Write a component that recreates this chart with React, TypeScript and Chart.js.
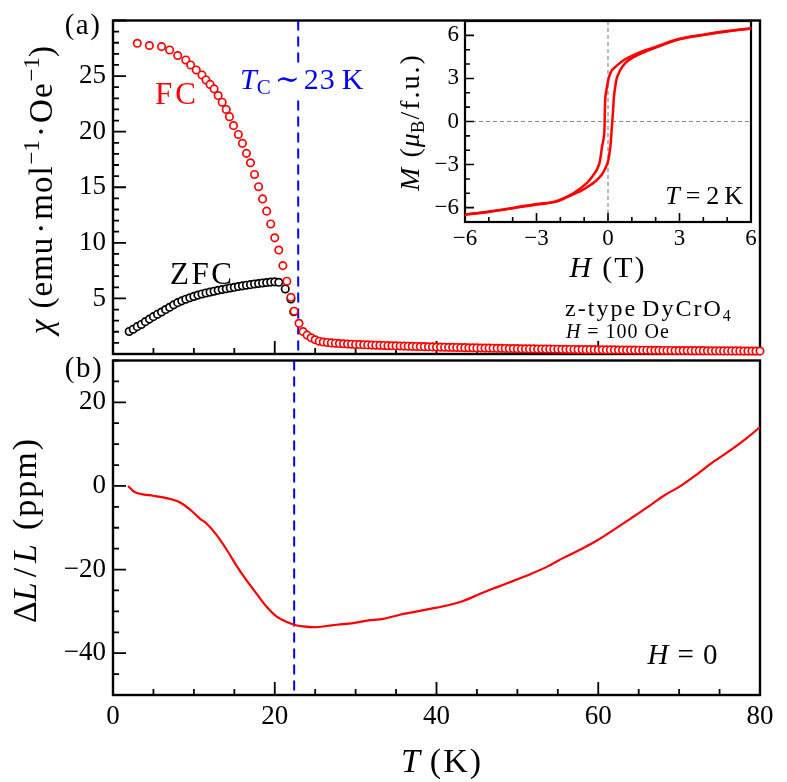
import React, { useEffect, useRef } from 'react';
import { Chart, registerables } from 'chart.js';

Chart.register(...registerables);

const SERIF = '"Liberation Serif", "DejaVu Serif", "Times New Roman", serif';
const RED = '#ff0000';
const BLUE = '#0000ff';

// ---------------- data: (a) chi(T) ----------------
const T_FC = [3, 4.5, 6, 7, 8, 9, 9.6, 10.3, 11, 11.5, 12, 12.5, 13, 13.5, 14, 14.4, 14.9, 15.5, 16, 16.5,
  17, 17.5, 18, 18.5, 19, 19.5, 20, 20.5, 21, 21.5, 22, 22.4, 23, 23.5, 24, 24.5, 25, 25.5];
const CHI_FC = [27.95, 27.75, 27.65, 27.35, 26.85, 26.45, 26.0, 25.55, 25.1, 24.65, 24.25, 23.85, 23.25, 22.65, 22.0, 21.35, 20.55, 19.75, 18.95, 18.05,
  17.2, 16.15, 15.05, 13.95, 12.85, 11.7, 10.45, 9.35, 7.95, 6.55, 5.1, 3.85, 2.76, 2.02, 1.7, 1.46, 1.28, 1.15];
const T_FC_TAIL = [
  26, 26.5, 27, 27.5, 28, 28.5, 29, 29.5, 30, 30.5,
  31, 31.5, 32, 32.5, 33, 33.5, 34, 34.5, 35, 35.5,
  36, 36.5, 37, 37.5, 38, 38.5, 39, 39.5, 40, 40.5,
  41, 41.5, 42, 42.5, 43, 43.5, 44, 44.5, 45, 45.5,
  46, 46.5, 47, 47.5, 48, 48.5, 49, 49.5, 50, 50.5,
  51, 51.5, 52, 52.5, 53, 53.5, 54, 54.5, 55, 55.5,
  56, 56.5, 57, 57.5, 58, 58.5, 59, 59.5, 60, 60.5,
  61, 61.5, 62, 62.5, 63, 63.5, 64, 64.5, 65, 65.5,
  66, 66.5, 67, 67.5, 68, 68.5, 69, 69.5, 70, 70.5,
  71, 71.5, 72, 72.5, 73, 73.5, 74, 74.5, 75, 75.5,
  76, 76.5, 77, 77.5, 78, 78.5, 79, 79.5, 80];
const CHI_FC_TAIL = [
  1.08, 1.04, 1.0, 0.97, 0.94, 0.92, 0.9, 0.88, 0.86, 0.85,
  0.83, 0.82, 0.8, 0.79, 0.78, 0.77, 0.75, 0.74, 0.73, 0.72,
  0.71, 0.7, 0.69, 0.68, 0.67, 0.66, 0.65, 0.64, 0.63, 0.62,
  0.61, 0.6, 0.6, 0.59, 0.58, 0.57, 0.56, 0.56, 0.55, 0.54,
  0.53, 0.53, 0.52, 0.51, 0.51, 0.5, 0.49, 0.49, 0.48, 0.47,
  0.47, 0.46, 0.46, 0.45, 0.45, 0.44, 0.44, 0.43, 0.43, 0.42,
  0.42, 0.41, 0.41, 0.4, 0.4, 0.39, 0.39, 0.39, 0.38, 0.38,
  0.37, 0.37, 0.37, 0.36, 0.36, 0.35, 0.35, 0.35, 0.34, 0.34,
  0.34, 0.33, 0.33, 0.33, 0.32, 0.32, 0.32, 0.31, 0.31, 0.31,
  0.31, 0.3, 0.3, 0.3, 0.3, 0.29, 0.29, 0.29, 0.29, 0.28,
  0.28, 0.28, 0.28, 0.28, 0.27, 0.27, 0.27, 0.27, 0.27];
const T_ZFC = [2, 2.5, 3, 3.5, 4, 4.5, 5, 5.5, 6, 6.5, 7, 7.5, 8, 8.5, 9, 9.5, 10, 10.5, 11, 11.5,
  12, 12.5, 13, 13.5, 14, 14.5, 15, 15.5, 16, 16.5, 17, 17.5, 18, 18.5, 19, 19.5, 20, 20.5, 21.3, 22, 22.35];
const CHI_ZFC = [2.03, 2.23, 2.46, 2.66, 2.91, 3.14, 3.36, 3.58, 3.78, 4.0, 4.2, 4.42, 4.62, 4.78, 4.93, 5.06, 5.18, 5.3, 5.4, 5.49,
  5.57, 5.65, 5.73, 5.8, 5.87, 5.94, 6.0, 6.07, 6.13, 6.19, 6.24, 6.3, 6.34, 6.39, 6.43, 6.47, 6.49, 6.45, 5.85, 4.95, 3.8];

// ---------------- data: (b) dL/L(T) ----------------
const T_DL = [1.86, 2.15, 2.48, 2.9, 3.72, 4.95, 6.2, 7.23, 8.26, 9.5, 10.74, 11.56, 12.8, 14.04, 15.28, 16.52, 17.76, 19.0, 20.2, 21.5,
  22.4, 23.5, 25.0, 26.4, 27.7, 29.7, 31.4, 33.4, 35.5, 37.6, 39.2, 41.3, 43.3, 45.4, 47.5, 49.5, 51.6, 53.7, 55.7, 57.8,
  59.9, 61.9, 64.0, 66.1, 68.1, 70.2, 72.3, 74.3, 76.4, 78.4, 80];
const DL = [0, -0.54, -1.17, -1.63, -2.0, -2.34, -2.73, -3.2, -3.9, -5.6, -7.8, -8.97, -11.7, -15.2, -19.1, -22.6, -25.8, -28.9, -31.2, -32.55,
  -33.2, -33.6, -33.8, -33.5, -33.2, -32.8, -32.2, -31.8, -30.8, -30.0, -29.4, -28.6, -27.5, -25.8, -24.2, -22.7, -21.1, -19.3, -17.2, -15.2,
  -13.0, -10.5, -7.8, -5.06, -2.34, 0, 2.9, 5.85, 8.6, 11.5, 14.05];

// ---------------- data: inset M(H) at 2 K ----------------
const H_UP = [-6, -5, -4, -3, -2.2, -1.44, -1.1, -0.81, -0.55, -0.39, -0.25, -0.14, -0.06, 0, 0.05,
  0.1, 0.14, 0.18, 0.22, 0.25, 0.32, 0.39, 0.6, 0.88, 1.37, 2, 3, 4, 5, 6];
const M_UP = [-6.5, -6.3, -6.05, -5.78, -5.6, -5.05, -4.8, -4.5, -4.2, -3.94, -3.68, -3.36, -3.05, -2.78, -2.35,
  -1.74, -0.9, 0, 0.95, 1.74, 2.6, 3.13, 3.82, 4.28, 4.72, 5.15, 5.72, 6.02, 6.27, 6.48];
const H_DOWN = [6, 5, 4, 3, 2, 1.23, 0.67, 0.32, 0.18, 0.1, 0.02, -0.04, -0.08, -0.11, -0.13,
  -0.14, -0.16, -0.2, -0.25, -0.3, -0.36, -0.45, -0.56, -0.88, -1.44, -2.2, -3, -4, -5, -6];
const M_DOWN = [6.5, 6.3, 6.05, 5.76, 5.2, 4.75, 4.28, 3.82, 3.6, 3.36, 2.95, 2.43, 2.05, 1.74, 0.9,
  0, -0.9, -1.35, -1.74, -2.35, -2.9, -3.3, -3.6, -4.28, -4.98, -5.56, -5.74, -6.02, -6.27, -6.48];

// ---------------- markers / ticks ----------------
const TC_TOP = 22.9;
const TC_BOTTOM = 22.4;
const TC_GAP = [22.8, 25.9];
const TICKS_T = [0, 20, 40, 60, 80];
const TICKS_CHI = [5, 10, 15, 20, 25];
const TICKS_DL = [-40, -20, 0, 20];
const TICKS_H = [-6, -3, 0, 3, 6];
const TICKS_M = [-6, -3, 0, 3, 6];

const pts = (xs: number[], ys: number[]) =>
  xs.slice(0, Math.min(xs.length, ys.length)).map((x, i) => ({ x, y: ys[i] }));

const fontOf = (s: number, it?: boolean) => `${it ? 'italic ' : ''}${s}px ${SERIF}`;
const fmt = (v: number) => (v < 0 ? '\u2212' + Math.abs(v) : String(v));

type Seg = { t: string; s: number; it?: boolean; dy?: number; gap?: number; pre?: number; c?: string; ls?: number };

function drawRich(ctx: CanvasRenderingContext2D, segs: Seg[], x: number, y: number,
  align: 'left' | 'center' | 'right' = 'left', rot = 0, color = '#000') {
  ctx.save();
  ctx.translate(x, y);
  if (rot) ctx.rotate(rot);
  ctx.textBaseline = 'alphabetic';
  ctx.textAlign = 'left';
  const c2 = ctx as any;
  const widths = segs.map((sg) => {
    ctx.font = fontOf(sg.s, sg.it);
    c2.letterSpacing = `${sg.ls || 0}px`;
    return (sg.pre || 0) + ctx.measureText(sg.t).width + (sg.gap || 0);
  });
  const total = widths.reduce((a, b) => a + b, 0);
  let cx = align === 'left' ? 0 : align === 'center' ? -total / 2 : -total;
  segs.forEach((sg, i) => {
    ctx.font = fontOf(sg.s, sg.it);
    c2.letterSpacing = `${sg.ls || 0}px`;
    ctx.fillStyle = sg.c || color;
    ctx.fillText(sg.t, cx + (sg.pre || 0), sg.dy || 0);
    cx += widths[i];
  });
  c2.letterSpacing = '0px';
  ctx.restore();
}

function axis(min: number, max: number, ticks: number[], kind: 'x' | 'y', show: boolean, size: number, padding: number, thick: number) {
  return {
    type: 'linear',
    min,
    max,
    grid: { display: false, drawTicks: false },
    border: { display: false },
    ticks: {
      display: show,
      color: '#000',
      font: { family: SERIF, size, lineHeight: 1 },
      padding,
      autoSkip: false,
      maxRotation: 0,
      callback: (v: any) => fmt(Number(v)),
    },
    afterBuildTicks: (s: any) => { s.ticks = ticks.map((v) => ({ value: v })); },
    afterFit: (s: any) => { if (kind === 'x') s.height = thick; else s.width = thick; },
  };
}

type FrameCfg = {
  xMinor: number; xMajor: number; yMinor: number; yMajor: number;
  majorLen: number; minorLen: number; lw: number; tw: number; bg?: boolean; zeroLines?: boolean;
  texts?: (ctx: CanvasRenderingContext2D, chart: any) => void;
};

function framePlugin(o: FrameCfg) {
  return {
    id: 'frameTicks',
    beforeDatasetsDraw(chart: any) {
      const { ctx, chartArea: a, scales } = chart;
      const xs = scales.x, ys = scales.y;
      ctx.save();
      if (o.bg) {
        ctx.fillStyle = '#fff';
        ctx.fillRect(a.left, a.top, a.right - a.left, a.bottom - a.top);
      }
      if (o.zeroLines) {
        ctx.strokeStyle = '#8a8a8a';
        ctx.lineWidth = 1.2;
        ctx.setLineDash([4, 3]);
        ctx.beginPath();
        const x0 = xs.getPixelForValue(0), y0 = ys.getPixelForValue(0);
        ctx.moveTo(x0, a.top); ctx.lineTo(x0, a.bottom);
        ctx.moveTo(a.left, y0); ctx.lineTo(a.right, y0);
        ctx.stroke();
        ctx.setLineDash([]);
      }
      ctx.strokeStyle = '#000';
      ctx.lineWidth = o.tw;
      ctx.beginPath();
      const isMaj = (v: number, m: number) => Math.abs(v / m - Math.round(v / m)) < 1e-6;
      for (let k = Math.ceil(xs.min / o.xMinor - 1e-9); k * o.xMinor <= xs.max + 1e-9; k++) {
        const v = k * o.xMinor;
        const px = xs.getPixelForValue(v);
        const len = isMaj(v, o.xMajor) ? o.majorLen : o.minorLen;
        ctx.moveTo(px, a.bottom); ctx.lineTo(px, a.bottom - len);
      }
      for (let k = Math.ceil(ys.min / o.yMinor - 1e-9); k * o.yMinor <= ys.max + 1e-9; k++) {
        const v = k * o.yMinor;
        const py = ys.getPixelForValue(v);
        const len = isMaj(v, o.yMajor) ? o.majorLen : o.minorLen;
        ctx.moveTo(a.left, py); ctx.lineTo(a.left + len, py);
      }
      ctx.stroke();
      ctx.lineWidth = o.lw;
      ctx.strokeRect(a.left, a.top, a.right - a.left, a.bottom - a.top);
      ctx.restore();
    },
    afterDraw(chart: any) {
      if (o.texts) {
        chart.ctx.save();
        o.texts(chart.ctx, chart);
        chart.ctx.restore();
      }
    },
  };
}

const baseOptions = (padding: any, scales: any) => ({
  responsive: false,
  maintainAspectRatio: false,
  animation: false,
  devicePixelRatio: 1,
  events: [],
  layout: { padding },
  plugins: { legend: { display: false }, tooltip: { enabled: false } },
  scales,
});

const MARK = { showLine: false, pointRadius: 3.7, pointBorderWidth: 1.7, pointBackgroundColor: '#fff', clip: false };
const DASH = { showLine: true, borderColor: BLUE, borderWidth: 2, borderDash: [10, 6], pointRadius: 0 };

function topConfig(): any {
  const px = (c: any, v: number) => c.scales.x.getPixelForValue(v);
  const py = (c: any, v: number) => c.scales.y.getPixelForValue(v);
  return {
    type: 'scatter',
    data: {
      datasets: [
        { ...MARK, data: pts(T_FC.concat(T_FC_TAIL), CHI_FC.concat(CHI_FC_TAIL)), pointBorderColor: RED, order: 1 },
        { ...MARK, data: pts(T_ZFC, CHI_ZFC), pointBorderColor: '#000', order: 2 },
        { ...DASH, data: [{ x: TC_TOP, y: 30 }, { x: TC_TOP, y: TC_GAP[1] }], order: 3 },
        { ...DASH, data: [{ x: TC_TOP, y: TC_GAP[0] }, { x: TC_TOP, y: 0 }], order: 3 },
      ],
    },
    options: baseOptions({ left: 0, top: 13, right: 27, bottom: 26 }, {
      x: axis(0, 80, TICKS_T, 'x', false, 27, 3, 0),
      y: axis(0, 30, TICKS_CHI, 'y', true, 27, 7, 113),
    }),
    plugins: [framePlugin({
      xMinor: 5, xMajor: 20, yMinor: 1, yMajor: 5, majorLen: 13, minorLen: 6, lw: 2.4, tw: 1.8,
      texts: (ctx, c) => {
        drawRich(ctx, [{ t: '(a)', s: 29, ls: 1.5 }], 83, 34, 'center');
        drawRich(ctx, [
          { t: 'χ', s: 33, it: true, gap: 11 },
          { t: '(emu', s: 33, ls: 1 },
          { t: '·', s: 33, pre: 3, gap: 3 },
          { t: 'mol', s: 33, gap: 1, ls: 1 },
          { t: '\u22121', s: 23, dy: -13 },
          { t: '·', s: 33, pre: 3, gap: 3 },
          { t: 'Oe', s: 33, gap: 1, ls: 1 },
          { t: '\u22121', s: 23, dy: -13 },
          { t: ')', s: 33 },
        ], 52, 190, 'center', -Math.PI / 2);
        drawRich(ctx, [{ t: 'FC', s: 31, ls: 3 }], px(c, 5.2), py(c, 22.5), 'left', 0, RED);
        drawRich(ctx, [{ t: 'ZFC', s: 31, ls: 2.5 }], px(c, 7.05), py(c, 6.33), 'left', 0, '#000');
        drawRich(ctx, [
          { t: 'T', s: 30, it: true },
          { t: 'C', s: 21, dy: 5, gap: 4 },
          { t: '∼', s: 30, gap: 4 },
          { t: '23', s: 30, gap: 6, ls: 1 },
          { t: 'K', s: 30 },
        ], px(c, 15.7), py(c, 23.85), 'left', 0, BLUE);
        drawRich(ctx, [{ t: 'z-type', s: 24, ls: 2, gap: 5 }, { t: 'DyCrO', s: 24, ls: 2 }, { t: '4', s: 16, dy: 5 }],
          px(c, 55.9), py(c, 3.43), 'left');
        drawRich(ctx, [{ t: 'H', s: 20, it: true, gap: 7 }, { t: '=', s: 20, gap: 7 }, { t: '100', s: 20, gap: 6, ls: 1 }, { t: 'Oe', s: 20, ls: 1 }],
          px(c, 56.0), py(c, 1.41), 'left');
      },
    })],
  };
}

function bottomConfig(): any {
  const px = (c: any, v: number) => c.scales.x.getPixelForValue(v);
  const py = (c: any, v: number) => c.scales.y.getPixelForValue(v);
  return {
    type: 'scatter',
    data: {
      datasets: [
        {
          data: pts(T_DL, DL),
          showLine: true, borderColor: RED, borderWidth: 2.2, pointRadius: 0,
          cubicInterpolationMode: 'monotone', order: 1,
        },
        { ...DASH, data: [{ x: TC_BOTTOM, y: 30 }, { x: TC_BOTTOM, y: -50 }], order: 2 },
      ],
    },
    options: baseOptions({ left: 0, top: 14, right: 27, bottom: 0 }, {
      x: axis(0, 80, TICKS_T, 'x', true, 27, 8, 87),
      y: axis(-50, 30, TICKS_DL, 'y', true, 27, 7, 113),
    }),
    plugins: [framePlugin({
      xMinor: 5, xMajor: 20, yMinor: 5, yMajor: 20, majorLen: 13, minorLen: 6, lw: 2.4, tw: 1.8,
      texts: (ctx, c) => {
        drawRich(ctx, [{ t: '(b)', s: 29, ls: 1.5 }], 84, 37, 'center');
        drawRich(ctx, [
          { t: 'Δ', s: 34 },
          { t: 'L', s: 34, it: true, gap: 5 },
          { t: '/', s: 34, gap: 5 },
          { t: 'L', s: 34, it: true, gap: 14 },
          { t: '(ppm)', s: 34, ls: 2 },
        ], 36, 190, 'center', -Math.PI / 2);
        drawRich(ctx, [{ t: 'T', s: 34, it: true, gap: 10 }, { t: '(K)', s: 34, ls: 2 }], 442, 432, 'center');
        drawRich(ctx, [{ t: 'H', s: 29, it: true, gap: 9 }, { t: '=', s: 29, gap: 9 }, { t: '0', s: 29 }],
          px(c, 66.1), py(c, -42.5), 'left');
      },
    })],
  };
}

function insetConfig(): any {
  const px = (c: any, v: number) => c.scales.x.getPixelForValue(v);
  const py = (c: any, v: number) => c.scales.y.getPixelForValue(v);
  const LINE = { showLine: true, borderColor: RED, borderWidth: 2.5, pointRadius: 0, tension: 0.35, borderJoinStyle: 'round' };
  return {
    type: 'scatter',
    data: {
      datasets: [
        { ...LINE, data: pts(H_UP, M_UP) },
        { ...LINE, data: pts(H_DOWN, M_DOWN) },
      ],
    },
    options: baseOptions({ left: 0, top: 21, right: 24, bottom: 0 }, {
      x: axis(-6, 6, TICKS_H, 'x', true, 23, 5, 68),
      y: axis(-7, 7, TICKS_M, 'y', true, 23, 6, 70),
    }),
    plugins: [framePlugin({
      xMinor: 1, xMajor: 3, yMinor: 1, yMajor: 3, majorLen: 9, minorLen: 5, lw: 2.2, tw: 1.6, bg: true, zeroLines: true,
      texts: (ctx, c) => {
        drawRich(ctx, [
          { t: 'M', s: 28, it: true, gap: 10 },
          { t: '(', s: 28, ls: 1 },
          { t: 'μ', s: 28, it: true },
          { t: 'B', s: 19, dy: 5, gap: 1 },
          { t: '/f.u.)', s: 28, ls: 2 },
        ], 24, 122, 'center', -Math.PI / 2);
        drawRich(ctx, [{ t: 'H', s: 30, it: true, gap: 11 }, { t: '(T)', s: 30, ls: 2 }], 213, 277, 'center');
        drawRich(ctx, [{ t: 'T', s: 26, it: true, gap: 6 }, { t: '=', s: 26, gap: 6 }, { t: '2', s: 26, gap: 5 }, { t: 'K', s: 26 }],
          px(c, 5.67), py(c, -5.76), 'right');
      },
    })],
  };
}

export default function App() {
  const bottomRef = useRef<HTMLCanvasElement>(null);
  const topRef = useRef<HTMLCanvasElement>(null);
  const insetRef = useRef<HTMLCanvasElement>(null);

  useEffect(() => {
    const charts: Chart[] = [];
    if (bottomRef.current) charts.push(new Chart(bottomRef.current, bottomConfig()));
    if (topRef.current) charts.push(new Chart(topRef.current, topConfig()));
    if (insetRef.current) charts.push(new Chart(insetRef.current, insetConfig()));
    return () => charts.forEach((c) => c.destroy());
  }, []);

  return (
    <div style={{ position: 'absolute', left: 0, top: 0, width: 787, height: 782, background: '#fff', overflow: 'hidden' }}>
      <canvas ref={bottomRef} width={787} height={442} style={{ position: 'absolute', left: 0, top: 340, width: 787, height: 442 }} />
      <canvas ref={topRef} width={787} height={380} style={{ position: 'absolute', left: 0, top: 0, width: 787, height: 380 }} />
      <canvas ref={insetRef} width={380} height={290} style={{ position: 'absolute', left: 395, top: 0, width: 380, height: 290 }} />
    </div>
  );
}
